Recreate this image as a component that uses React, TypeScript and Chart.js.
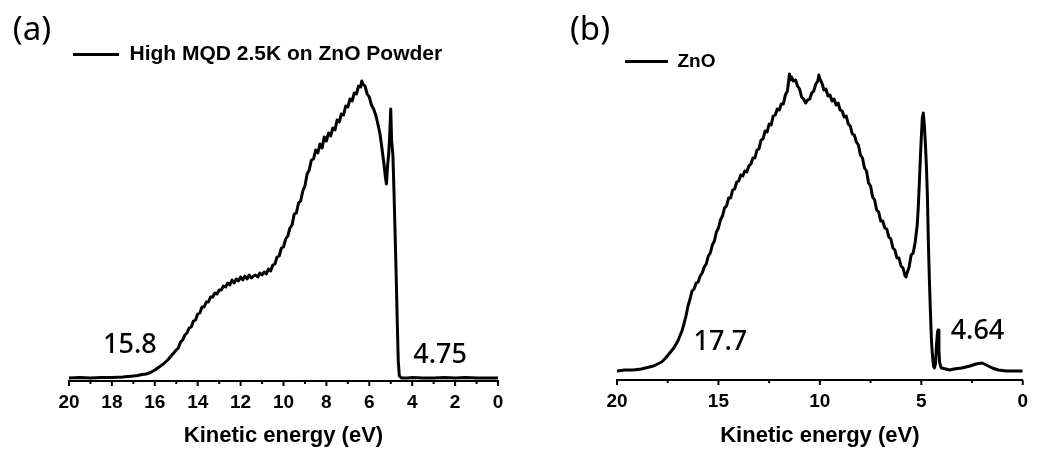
import { useEffect, useRef } from "react";
import { Chart, registerables } from "chart.js";

Chart.register(...registerables);

const FONT = "'Liberation Sans', Arial, Helvetica, sans-serif";
const NOTE_FONT = "'Noto Sans', 'Open Sans', sans-serif";

// (a) High MQD 2.5K on ZnO Powder: secondary-electron spectrum
const energyA = [
  20, 19.5, 19, 18.5, 18, 17.5, 17, 16.8, 16.6, 16.4,
  16.2, 16.0, 15.8, 15.6, 15.4, 15.2, 15.0, 14.9, 14.8, 14.7,
  14.6, 14.5, 14.4, 14.3, 14.2, 14.1, 14.0, 13.9, 13.8, 13.7,
  13.6, 13.5, 13.4, 13.3, 13.2, 13.1, 13.0, 12.9, 12.8, 12.7,
  12.6, 12.5, 12.4, 12.3, 12.2, 12.1, 12.0, 11.9, 11.8, 11.7,
  11.6, 11.5, 11.4, 11.3, 11.2, 11.1, 11.0, 10.9, 10.8, 10.7,
  10.6, 10.5, 10.4, 10.3, 10.2, 10.1, 10.0, 9.9, 9.8, 9.7,
  9.6, 9.5, 9.4, 9.3, 9.2, 9.1, 9.0, 8.9, 8.8, 8.7,
  8.6, 8.5, 8.4, 8.3, 8.2, 8.1, 8.0, 7.9, 7.8, 7.7,
  7.6, 7.5, 7.4, 7.3, 7.2, 7.1, 7.0, 6.9, 6.8, 6.7,
  6.6, 6.5, 6.4, 6.35, 6.3, 6.2, 6.1, 6.0, 5.9, 5.8,
  5.7, 5.6, 5.5, 5.4, 5.3, 5.25, 5.2, 5.15, 5.1, 5.05,
  5.0, 4.96, 4.9, 4.85, 4.8, 4.75, 4.7, 4.65, 4.6, 4.5,
  4.2, 4.0, 3.5, 3.0, 2.5, 2.0, 1.5, 1.0, 0.5, 0,
];
const countsA = [
  3, 3.5, 3, 3.5, 3.5, 4, 5, 5.5, 6.5, 7,
  8.5, 11, 14, 17, 21, 26, 31, 33, 39, 41,
  46, 48, 53, 54, 60, 61, 67, 68, 74, 74,
  79, 79, 84, 84, 88, 87, 91, 91, 95, 94,
  98, 96, 101, 98, 102, 100, 104, 101, 105, 102,
  106, 103, 105, 106, 104, 108, 106, 109, 107, 112,
  110, 116, 117, 124, 125, 133, 134, 142, 145, 153,
  156, 167, 168, 178, 180, 190, 195, 207, 211, 221,
  222, 231, 228, 237, 233, 244, 240, 248, 245, 253,
  251, 261, 259, 267, 266, 275, 274, 282, 280, 288,
  287, 295, 294, 300, 297, 295, 287, 284, 276, 272,
  266, 257, 247, 231, 214, 204, 197, 215, 226, 245,
  272, 240, 226, 190, 150, 108, 62, 20, 5, 3,
  3, 3.5, 3, 3, 3.5, 3, 3.5, 3, 3, 3,
];

// (b) bare ZnO reference spectrum
const energyB = [
  20, 19.6, 19.2, 18.8, 18.4, 18.2, 18.0, 17.8, 17.6, 17.4,
  17.2, 17.0, 16.9, 16.8, 16.7, 16.6, 16.5, 16.4, 16.3, 16.2,
  16.1, 16.0, 15.9, 15.8, 15.7, 15.6, 15.5, 15.4, 15.3, 15.2,
  15.1, 15.0, 14.9, 14.8, 14.7, 14.6, 14.5, 14.4, 14.3, 14.2,
  14.1, 14.0, 13.9, 13.8, 13.7, 13.6, 13.5, 13.4, 13.3, 13.2,
  13.1, 13.0, 12.9, 12.8, 12.7, 12.6, 12.5, 12.4, 12.3, 12.2,
  12.1, 12.0, 11.9, 11.8, 11.7, 11.6, 11.55, 11.5, 11.45, 11.4,
  11.3, 11.2, 11.1, 11.0, 10.9, 10.8, 10.7, 10.6, 10.5, 10.4,
  10.3, 10.2, 10.1, 10.05, 10.0, 9.9, 9.8, 9.7, 9.6, 9.5,
  9.4, 9.3, 9.2, 9.1, 9.0, 8.9, 8.8, 8.7, 8.6, 8.5,
  8.4, 8.3, 8.2, 8.1, 8.0, 7.9, 7.8, 7.7, 7.6, 7.5,
  7.4, 7.3, 7.2, 7.1, 7.0, 6.9, 6.8, 6.7, 6.6, 6.5,
  6.4, 6.3, 6.2, 6.1, 6.0, 5.9, 5.8, 5.75, 5.7, 5.6,
  5.5, 5.4, 5.3, 5.2, 5.15, 5.1, 5.05, 5.0, 4.95, 4.9,
  4.85, 4.8, 4.75, 4.7, 4.65, 4.6, 4.55, 4.5, 4.45, 4.4,
  4.35, 4.3, 4.25, 4.2, 4.17, 4.13, 4.1, 4.05, 4.0, 3.8,
  3.6, 3.4, 3.0, 2.6, 2.3, 2.0, 1.8, 1.5, 1.2, 0.8,
  0.4, 0,
];
const countsB = [
  9, 10, 10, 11, 13, 14, 16, 18, 22, 27,
  32, 39, 44, 49, 56, 64, 74, 81, 89, 91,
  97, 98, 104, 107, 113, 116, 124, 127, 135, 139,
  148, 152, 160, 164, 172, 174, 182, 182, 190, 191,
  198, 199, 205, 204, 209, 208, 214, 216, 222, 222,
  230, 231, 240, 241, 249, 248, 256, 255, 264, 265,
  271, 270, 276, 276, 285, 289, 297, 306, 300, 303,
  299, 300, 294, 291, 283, 281, 277, 280, 281, 287,
  289, 296, 299, 305, 301, 297, 290, 291, 284, 285,
  279, 281, 275, 277, 270, 269, 263, 264, 256, 254,
  246, 245, 238, 235, 225, 222, 212, 209, 197, 194,
  183, 180, 170, 168, 159, 159, 152, 151, 143, 141,
  132, 130, 122, 122, 114, 112, 104, 103, 107, 113,
  125, 127, 138, 155, 172, 195, 220, 242, 262, 267,
  255, 237, 215, 185, 137, 100, 68, 40, 25, 14,
  12, 16, 35, 48, 50, 30, 18, 14, 12, 11,
  10, 11, 12, 14, 16, 17, 15, 12, 10, 9,
  9, 9,
];

const majorTicksA = [20, 18, 16, 14, 12, 10, 8, 6, 4, 2, 0];
const minorTicksA = [19, 17, 15, 13, 11, 9, 7, 5, 3, 1];
const majorTicksB = [20, 15, 10, 5, 0];
const minorTicksB = [17.5, 12.5, 7.5, 2.5];

const seriesNameA = "High MQD 2.5K on ZnO Powder";
const seriesNameB = "ZnO";
const edgeLabelsA = ["15.8", "4.75"];
const edgeLabelsB = ["17.7", "4.64"];
const axisTitle = "Kinetic energy (eV)";

type Note = { text: string; e: number; h: number };

type PanelSpec = {
  letter: string;
  letterX: number;
  letterY: number;
  name: string;
  energy: number[];
  counts: number[];
  major: number[];
  minor: number[];
  notes: Note[];
  padLeft: number;
  padRight: number;
  padTop: number;
  yMax: number;
  axisHeight: number;
  legendPad: number;
  legendBox: number;
  legendFont: number;
};

const CANVAS_W = 519;
const CANVAS_H = 457;

// Tick marks, panel letter and cutoff annotations; keeps the in-plot legend
// pinned to the top of the plotting area.
const panelDecor = {
  id: "panelDecor",
  beforeDraw(chart: any) {
    const lg = chart.legend;
    if (lg) {
      const h = lg.height;
      lg.top = chart.chartArea.top;
      lg.bottom = lg.top + h;
    }
  },
  afterDraw(chart: any, _args: any, opts: any) {
    const ctx: CanvasRenderingContext2D = chart.ctx;
    const xs = chart.scales.x;
    const ys = chart.scales.y;
    const axisY = xs.top;
    ctx.save();
    ctx.strokeStyle = "#000";
    ctx.lineWidth = 2;
    const mark = (v: number, len: number) => {
      const px = xs.getPixelForValue(v);
      ctx.beginPath();
      ctx.moveTo(px, axisY);
      ctx.lineTo(px, axisY + len);
      ctx.stroke();
    };
    (opts.major as number[]).forEach((v) => mark(v, 5));
    (opts.minor as number[]).forEach((v) => mark(v, 3));

    ctx.fillStyle = "#000";
    ctx.font = `33px ${NOTE_FONT}`;
    ctx.textAlign = "center";
    ctx.textBaseline = "middle";
    ctx.fillText(opts.letter, opts.letterX, opts.letterY);

    ctx.font = `500 27px ${NOTE_FONT}`;
    ctx.textBaseline = "alphabetic";
    (opts.notes as Note[]).forEach((n) => {
      ctx.fillText(n.text, xs.getPixelForValue(n.e), ys.getPixelForValue(n.h));
    });
    ctx.restore();
  },
};

const specA: PanelSpec = {
  letter: "(a)",
  letterX: 32,
  letterY: 31,
  name: seriesNameA,
  energy: energyA,
  counts: countsA,
  major: majorTicksA,
  minor: minorTicksA,
  notes: [
    { text: edgeLabelsA[0], e: 17.16, h: 28 },
    { text: edgeLabelsA[1], e: 2.7, h: 18 },
  ],
  padLeft: 69,
  padRight: 21,
  padTop: 40,
  yMax: 341,
  axisHeight: 76,
  legendPad: 4,
  legendBox: 46,
  legendFont: 21,
};

const specB: PanelSpec = {
  letter: "(b)",
  letterX: 71,
  letterY: 31,
  name: seriesNameB,
  energy: energyB,
  counts: countsB,
  major: majorTicksB,
  minor: minorTicksB,
  notes: [
    { text: edgeLabelsB[0], e: 14.9, h: 30 },
    { text: edgeLabelsB[1], e: 2.23, h: 41 },
  ],
  padLeft: 98,
  padRight: 9,
  padTop: 44,
  yMax: 336,
  axisHeight: 77,
  legendPad: 8,
  legendBox: 43,
  legendFont: 19,
};

function Panel({ spec, left }: { spec: PanelSpec; left: number }) {
  const ref = useRef<HTMLCanvasElement>(null);

  useEffect(() => {
    if (!ref.current) return;
    const chart = new Chart(ref.current, {
      type: "line",
      data: {
        datasets: [
          {
            label: spec.name,
            data: spec.energy.map((e, i) => ({ x: e, y: spec.counts[i] })),
            borderColor: "#000",
            backgroundColor: "#000",
            borderWidth: 3,
            pointRadius: 0,
            tension: 0,
            fill: false,
            borderJoinStyle: "round",
          },
        ],
      },
      plugins: [panelDecor as any],
      options: {
        animation: false,
        responsive: false,
        maintainAspectRatio: false,
        layout: {
          padding: { left: spec.padLeft, right: spec.padRight, top: spec.padTop, bottom: 0 },
        },
        scales: {
          x: {
            type: "linear",
            min: 0,
            max: 20,
            reverse: true,
            afterBuildTicks: (scale: any) => {
              scale.ticks = spec.major.map((v) => ({ value: v }));
            },
            afterFit: (scale: any) => {
              scale.height = spec.axisHeight;
            },
            grid: { display: true, drawOnChartArea: false, drawTicks: false, color: "#000" },
            border: { display: true, color: "#000", width: 2 },
            ticks: {
              autoSkip: false,
              maxRotation: 0,
              padding: 10,
              color: "#000",
              font: { family: FONT, size: 19, weight: "bold" },
              callback: (v: any) => `${v}`,
            },
            title: {
              display: true,
              text: axisTitle,
              color: "#000",
              font: { family: FONT, size: 22, weight: "bold" },
              padding: { top: 0, bottom: 8 },
            },
          },
          y: {
            display: false,
            min: 0,
            max: spec.yMax,
          },
        },
        plugins: {
          legend: {
            display: true,
            position: "chartArea",
            align: "start",
            labels: {
              boxWidth: spec.legendBox,
              boxHeight: 3,
              padding: spec.legendPad,
              color: "#000",
              font: { family: FONT, size: spec.legendFont, weight: "bold" },
              generateLabels: () => [
                {
                  text: spec.name,
                  fillStyle: "#000",
                  strokeStyle: "#000",
                  lineWidth: 0,
                  hidden: false,
                  datasetIndex: 0,
                },
              ],
            },
          },
          tooltip: { enabled: false },
          panelDecor: {
            major: spec.major,
            minor: spec.minor,
            letter: spec.letter,
            letterX: spec.letterX,
            letterY: spec.letterY,
            notes: spec.notes,
          },
        } as any,
      },
    });
    return () => chart.destroy();
  }, [spec]);

  return (
    <canvas
      ref={ref}
      width={CANVAS_W}
      height={CANVAS_H}
      style={{ position: "absolute", left, top: 0, width: CANVAS_W, height: CANVAS_H }}
    />
  );
}

export default function App() {
  return (
    <div
      style={{
        position: "fixed",
        left: 0,
        top: 0,
        width: 1038,
        height: 457,
        background: "#fff",
        overflow: "hidden",
      }}
    >
      <Panel spec={specA} left={0} />
      <Panel spec={specB} left={CANVAS_W} />
    </div>
  );
}
